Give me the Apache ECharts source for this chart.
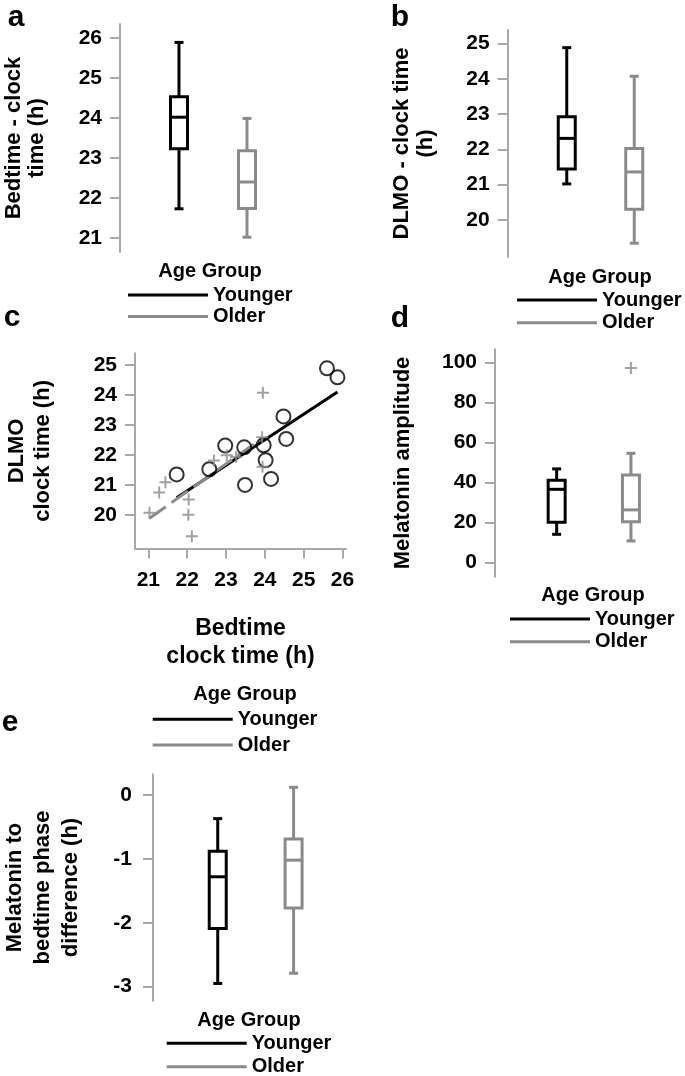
<!DOCTYPE html>
<html><head><meta charset="utf-8">
<script src="https://cdn.jsdelivr.net/npm/echarts@6/dist/echarts.min.js"></script>
<style>html,body{margin:0;padding:0;background:#fff}#c{width:685px;height:1076px}</style>
</head><body><div id="c"></div>
<script>
// ---- data ----
const groups = ['Younger', 'Older'];
// box stats: [min, Q1, median, Q3, max]
const bedYoung = [21.73, 23.23, 24.02, 24.53, 25.89];
const bedOld = [21.02, 21.74, 22.40, 23.18, 23.99];
const dlmoYoung = [21.02, 21.44, 22.31, 22.92, 24.88];
const dlmoOld = [19.34, 20.30, 21.36, 22.02, 24.07];
const ampYoung = [14.2, 20.2, 36.7, 41.2, 46.9];
const ampOld = [10.9, 20.5, 26.4, 43.9, 54.7];
const ampOldOutliers = [97.4];
const phaseYoung = [-2.95, -2.09, -1.28, -0.88, -0.37];
const phaseOld = [-2.79, -1.77, -1.02, -0.69, 0.12];
// scatter (bedtime, DLMO)
const scatterYoung = [[21.73,21.36],[22.57,21.53],[22.98,22.32],[23.47,22.26],[23.49,21.01],[23.97,22.33],
  [24.02,21.83],[24.16,21.21],[24.48,23.29],[24.55,22.54],[25.60,24.89],[25.87,24.59]];
const scatterOld = [[21.03,20.08],[21.28,20.76],[21.44,21.10],[22.04,20.52],[22.03,20.02],[22.12,19.30],
  [22.69,21.82],[23.02,22.00],[23.26,21.94],[23.95,24.08],[23.94,21.61],[23.93,22.60]];
const fitYoung = [[21.73,20.58],[25.87,24.10]];
const fitOld = [[21.03,19.90],[23.95,22.58]];
// tick labels
const ticksA = [21,22,23,24,25,26];
const ticksB = [20,21,22,23,24,25];
const ticksCx = [21,22,23,24,25,26];
const ticksCy = [20,21,22,23,24,25];
const ticksD = [0,20,40,60,80,100];
const ticksE = [-3,-2,-1,0];

const BLACK = '#000000', GRAY = '#8a8a8a', AXIS = '#a8a8a8';
const FONT = "'Liberation Sans', Arial, Helvetica, sans-serif";

function boxRender(color) {
  return function (params, api) {
    const x = api.value(0);
    const p = [1,2,3,4,5].map(i => api.coord([x, api.value(i)]));
    const cx = p[0][0], bw = 17, cw = 9;
    const st = () => ({stroke: color, lineWidth: 3, fill: null});
    return {type: 'group', children: [
      {type: 'line', shape: {x1: cx, y1: p[4][1], x2: cx, y2: p[3][1]}, style: st()},
      {type: 'line', shape: {x1: cx, y1: p[1][1], x2: cx, y2: p[0][1]}, style: st()},
      {type: 'line', shape: {x1: cx - cw/2, y1: p[4][1], x2: cx + cw/2, y2: p[4][1]}, style: st()},
      {type: 'line', shape: {x1: cx - cw/2, y1: p[0][1], x2: cx + cw/2, y2: p[0][1]}, style: st()},
      {type: 'rect', shape: {x: cx - bw/2, y: p[3][1], width: bw, height: p[1][1] - p[3][1]},
        style: {stroke: color, lineWidth: 3, fill: '#fff'}},
      {type: 'line', shape: {x1: cx - bw/2, y1: p[2][1], x2: cx + bw/2, y2: p[2][1]}, style: st()}
    ]};
  };
}
function boxSeries(name, gi, idx, stats, color) {
  return {type: 'custom', name, xAxisIndex: gi, yAxisIndex: gi, renderItem: boxRender(color),
    itemStyle: {color}, data: [[idx].concat(stats)], encode: {x: 0, y: [1,2,3,4,5]}, z: 3, silent: true};
}
function valueY(gi, min, max, ticks, offset, name, gap, lh, margin) {
  return {type: 'value', gridIndex: gi, min, max, offset, name, nameLocation: 'middle', nameGap: gap,
    nameRotate: 90,
    nameTextStyle: {fontSize: 22, fontWeight: 'bold', color: '#000', fontFamily: FONT, lineHeight: lh},
    axisLine: {show: true, lineStyle: {color: AXIS, width: 2}},
    axisTick: {show: true, length: 10, lineStyle: {color: AXIS, width: 2}, customValues: ticks},
    axisLabel: {fontSize: 21, fontWeight: 'bold', color: '#000', fontFamily: FONT, margin, customValues: ticks},
    splitLine: {show: false}};
}
function catX(gi) {
  return {type: 'category', gridIndex: gi, data: groups, show: false};
}
function legend(left, centerY, spacing) {
  return {orient: 'vertical', left, top: centerY - 10, height: 80, padding: 0, itemGap: spacing - 20,
    itemWidth: 80, itemHeight: 3, selectedMode: false,
    textStyle: {fontSize: 20, fontWeight: 'bold', color: '#000', fontFamily: FONT},
    data: [{name: 'Younger', icon: 'rect', itemStyle: {color: BLACK, borderWidth: 0}},
           {name: 'Older', icon: 'rect', itemStyle: {color: GRAY, borderWidth: 0}}]};
}
function txt(t, x, y, size) {
  return {type: 'text', x, y, style: {text: t, fontSize: size, fontWeight: 'bold', fill: '#000',
    fontFamily: FONT, align: 'center', verticalAlign: 'middle'}};
}

const chart = echarts.init(document.getElementById('c'), null, {renderer: 'canvas'});
chart.setOption({
  animation: false,
  backgroundColor: '#fff',
  grid: [
    {left: 145, top: 24, width: 136, height: 228},
    {left: 533, top: 30, width: 135, height: 227},
    {left: 135, top: 353.3, width: 211, height: 195.3},
    {left: 519.5, top: 349.3, width: 148.6, height: 227.4},
    {left: 169.5, top: 774.3, width: 162, height: 226.4}
  ],
  xAxis: [
    catX(0), catX(1),
    {type: 'value', gridIndex: 2, min: 20.657, max: 26.09,
      name: 'Bedtime\nclock time (h)', nameLocation: 'middle', nameGap: 66,
      nameTextStyle: {fontSize: 23, fontWeight: 'bold', color: '#000', fontFamily: FONT, lineHeight: 28},
      axisLine: {show: true, lineStyle: {color: AXIS, width: 2}},
      axisTick: {show: true, length: 10, lineStyle: {color: AXIS, width: 2}, customValues: ticksCx},
      axisLabel: {fontSize: 21, fontWeight: 'bold', color: '#000', fontFamily: FONT, margin: 21, customValues: ticksCx},
      splitLine: {show: false}},
    catX(3), catX(4)
  ],
  yAxis: [
    valueY(0, 20.65, 26.35, ticksA, 25, 'Bedtime - clock\ntime (h)', 72, 23, 18),
    valueY(1, 18.95, 25.38, ticksB, 25.3, 'DLMO - clock time\n(h)', 70, 24, 18),
    valueY(2, 18.89, 25.39, ticksCy, 0, 'DLMO\nclock time (h)', 79, 26, 18),
    valueY(3, -7, 106.7, ticksD, 24.5, 'Melatonin amplitude', 80, 24, 18),
    valueY(4, -3.22, 0.324, ticksE, 26.8, 'Melatonin to\nbedtime phase\ndifference (h)', 68, 28, 21)
  ],
  legend: [
    legend(128, 295, 21.5),
    legend(517, 300, 22.7),
    legend(152.7, 719.3, 25.7),
    legend(510, 619, 22.7),
    legend(166.7, 1043.3, 23.4)
  ],
  graphic: [
    txt('a', 16, 18, 30), txt('b', 400, 18, 30), txt('c', 12, 318, 30), txt('d', 400, 319, 30), txt('e', 10, 723, 30),
    txt('Age Group', 210, 271, 20), txt('Age Group', 600, 277, 20), txt('Age Group', 245, 694.5, 20),
    txt('Age Group', 593, 595, 20), txt('Age Group', 249, 1020.5, 20)
  ],
  series: [
    boxSeries('Younger', 0, 0, bedYoung, BLACK),
    boxSeries('Older', 0, 1, bedOld, GRAY),
    boxSeries('Younger', 1, 0, dlmoYoung, BLACK),
    boxSeries('Older', 1, 1, dlmoOld, GRAY),
    boxSeries('Younger', 3, 0, ampYoung, BLACK),
    boxSeries('Older', 3, 1, ampOld, GRAY),
    boxSeries('Younger', 4, 0, phaseYoung, BLACK),
    boxSeries('Older', 4, 1, phaseOld, GRAY),
    {type: 'scatter', name: 'Older', xAxisIndex: 3, yAxisIndex: 3, data: ampOldOutliers.map(v => [1, v]),
      symbol: 'path://M0,6H12M6,0V12', symbolSize: 12,
      itemStyle: {color: 'none', borderColor: GRAY, borderWidth: 2}, z: 4, silent: true},
    {type: 'line', name: 'Younger', xAxisIndex: 2, yAxisIndex: 2, data: fitYoung, showSymbol: false,
      lineStyle: {color: BLACK, width: 3}, z: 2, silent: true},
    {type: 'line', name: 'Older', xAxisIndex: 2, yAxisIndex: 2, data: fitOld, showSymbol: false,
      lineStyle: {color: GRAY, width: 3, type: [20, 7]}, z: 3, silent: true},
    {type: 'scatter', name: 'Younger', xAxisIndex: 2, yAxisIndex: 2, data: scatterYoung,
      symbol: 'circle', symbolSize: 14,
      itemStyle: {color: 'rgba(255,255,255,0)', borderColor: BLACK, borderWidth: 2}, z: 4, silent: true},
    {type: 'scatter', name: 'Older', xAxisIndex: 2, yAxisIndex: 2, data: scatterOld,
      symbol: 'path://M0,6H12M6,0V12', symbolSize: 12,
      itemStyle: {color: 'none', borderColor: GRAY, borderWidth: 2}, z: 4, silent: true}
  ]
});
</script></body></html>
